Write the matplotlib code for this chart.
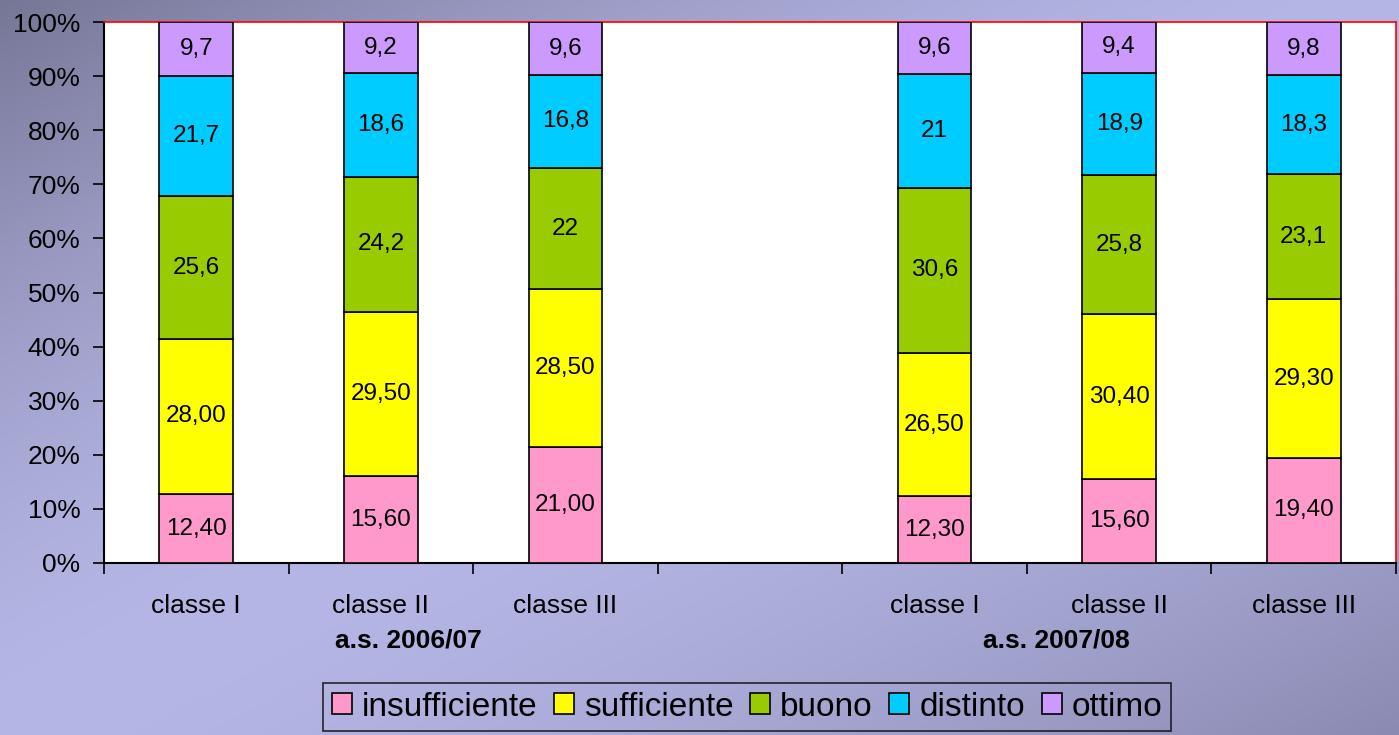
import matplotlib.pyplot as plt
import numpy as np

plt.rcParams['font.family'] = ['Liberation Sans', 'DejaVu Sans']

categories = ['classe I', 'classe II', 'classe III', '', 'classe I', 'classe II', 'classe III']
groups = ['a.s. 2006/07', 'a.s. 2007/08']
series = ['insufficiente', 'sufficiente', 'buono', 'distinto', 'ottimo']
colors = ['#ff99cc', '#ffff00', '#99cc00', '#00ccff', '#cc99ff']

insufficiente = [12.40, 15.60, 21.00, None, 12.30, 15.60, 19.40]
sufficiente = [28.00, 29.50, 28.50, None, 26.50, 30.40, 29.30]
buono = [25.6, 24.2, 22, None, 30.6, 25.8, 23.1]
distinto = [21.7, 18.6, 16.8, None, 21, 18.9, 18.3]
ottimo = [9.7, 9.2, 9.6, None, 9.6, 9.4, 9.8]

labels = [
    ['12,40', '15,60', '21,00', '', '12,30', '15,60', '19,40'],
    ['28,00', '29,50', '28,50', '', '26,50', '30,40', '29,30'],
    ['25,6', '24,2', '22', '', '30,6', '25,8', '23,1'],
    ['21,7', '18,6', '16,8', '', '21', '18,9', '18,3'],
    ['9,7', '9,2', '9,6', '', '9,6', '9,4', '9,8'],
]

data = [insufficiente, sufficiente, buono, distinto, ottimo]

fig = plt.figure(figsize=(13.99, 7.35), dpi=100)

# background gradient
bg = fig.add_axes([0, 0, 1, 1], zorder=-10)
H, W = 200, 380
yy, xx = np.mgrid[0:H, 0:W]
d = xx / (W - 1) + yy / (H - 1) - 1
light = np.array([182, 182, 230]) / 255
dark_tl = np.array([118, 118, 150]) / 255
dark_br = np.array([138, 138, 178]) / 255
t = np.abs(d)[..., None] ** 1.6
img = np.where(d[..., None] < 0, light + (dark_tl - light) * t, light + (dark_br - light) * t)
bg.imshow(img, aspect='auto', extent=[0, 1, 0, 1])
bg.axis('off')

ax = fig.add_axes([104 / 1399, 1 - 563 / 735, 1292 / 1399, 541 / 735])
ax.set_facecolor('white')

x = np.arange(len(categories))
bottom = np.zeros(len(categories))
for j, vals in enumerate(data):
    v = np.array([0 if a is None else a for a in vals], dtype=float)
    tot = np.array([sum(data[k][i] for k in range(5)) if vals[i] is not None else 1
                    for i in range(len(categories))])
    pct = v / tot * 100
    ax.bar(x, pct, 0.4, bottom=bottom, color=colors[j], edgecolor='black',
           linewidth=1.2, label=series[j], zorder=3)
    for i in range(len(categories)):
        if labels[j][i]:
            ax.text(x[i], bottom[i] + pct[i] / 2, labels[j][i], ha='center',
                    va='center', fontsize=17.5, zorder=4)
    bottom += pct

ax.set_xlim(-0.5, 6.5)
ax.set_ylim(0, 100)
ax.set_yticks(range(0, 101, 10))
ax.set_yticklabels([f'{v}%' for v in range(0, 101, 10)], fontsize=19)
ax.tick_params(axis='y', direction='out', length=8, width=1.2, pad=9)
ax.set_xticks(x)
ax.set_xticklabels(categories, fontsize=19)
ax.tick_params(axis='x', which='major', length=0, pad=22)
ax.set_xticks(np.arange(-0.5, 7, 1), minor=True)
ax.tick_params(axis='x', which='minor', direction='out', length=8, width=1.2)

for s in ['top', 'right']:
    ax.spines[s].set_color('red')
    ax.spines[s].set_linewidth(1.2)
for s in ['left', 'bottom']:
    ax.spines[s].set_color('black')
    ax.spines[s].set_linewidth(1.5)

ax.text(1.15, -0.143, groups[0], transform=ax.get_xaxis_transform(), ha='center',
        va='center', fontsize=19, fontweight='bold')
ax.text(4.66, -0.143, groups[1], transform=ax.get_xaxis_transform(), ha='center',
        va='center', fontsize=19, fontweight='bold')

leg = fig.legend(loc='center', bbox_to_anchor=(747 / 1399, 1 - 707 / 735), ncol=5,
                 fontsize=24, frameon=True, fancybox=False, edgecolor='black',
                 facecolor='none', handlelength=0.6, handleheight=0.6,
                 handletextpad=0.3, columnspacing=0.5, borderpad=0.25)
leg.get_frame().set_linewidth(1.2)

fig.savefig('out.png', dpi=100)
